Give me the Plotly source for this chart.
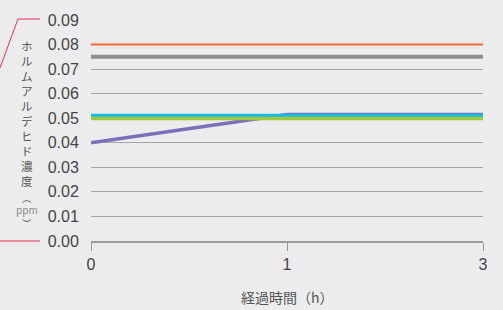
import plotly.graph_objects as go

x_labels = ["0", "1", "3"]
orange = [0.080, 0.080, 0.080]
gray = [0.075, 0.075, 0.075]
purple = [0.040, 0.0515, 0.0515]
blue = [0.0512, 0.0512, 0.0512]
green = [0.050, 0.050, 0.050]
y_ticks = [0.00, 0.01, 0.02, 0.03, 0.04, 0.05, 0.06, 0.07, 0.08, 0.09]
y_title_main = ["ホ", "ル", "ム", "ア", "ル", "デ", "ヒ", "ド", "濃", "度"]
y_title_unit = ["︵", "ppm", "︶"]
x_title = "経過時間（h）"

W, H = 503, 310
L, R, T, B = 91, 20, 15, 69
pw, ph = W - L - R, H - T - B

def px(x):
    return (x - L) / pw

def py(y):
    return (H - B - y) / ph

fig = go.Figure()
series = [
    (purple, "#7b6fb8", 3.5),
    (gray, "#8f8f8f", 4),
    (orange, "#f26b2a", 2),
    (green, "#9dc93b", 4),
    (blue, "#1bb9e8", 3),
]
for vals, col, w in series:
    fig.add_trace(go.Scatter(x=x_labels, y=vals, mode="lines",
                             line=dict(color=col, width=w), cliponaxis=False,
                             hoverinfo="skip", showlegend=False))

unit_txt = "<br>".join(
    f'<span style="font-size:10px;color:#888888">{c}</span>' if c == "ppm"
    else f'<span style="font-size:9px">{c}</span>' for c in y_title_unit)
ann = [
    dict(x=px(27), y=py(110.5), xref="paper", yref="paper", text="<br>".join(y_title_main),
         showarrow=False, xanchor="center", yanchor="middle",
         font=dict(family="Noto Sans CJK JP", size=11.5, color="#555555")),
    dict(x=px(27), y=py(210), xref="paper", yref="paper", text=unit_txt,
         showarrow=False, xanchor="center", yanchor="middle",
         font=dict(family="Noto Sans CJK JP", size=9.6, color="#555555")),
    dict(x=0.5, y=py(298), xref="paper", yref="paper", text=x_title,
         showarrow=False, xanchor="center", yanchor="middle",
         font=dict(family="Noto Sans CJK JP", size=14, color="#555555")),
]

shapes = [
    dict(type="path", xref="paper", yref="paper",
         path=f"M {px(0)},{py(64)} L {px(18)},{py(14)} L {px(40)},{py(14)}",
         line=dict(color="#e6304c", width=1)),
    dict(type="line", xref="paper", yref="paper", x0=px(0), x1=px(40), y0=py(241), y1=py(241),
         line=dict(color="#e6304c", width=1)),
]

fig.update_layout(
    width=W, height=H,
    margin=dict(l=L, r=R, t=T, b=B),
    paper_bgcolor="#ececee", plot_bgcolor="rgba(0,0,0,0)",
    annotations=ann, shapes=shapes,
    xaxis=dict(type="category", range=[0, 2], showgrid=False, showline=True,
               linecolor="#9a9a9a", linewidth=2, ticks="outside", ticklen=8,
               tickcolor="#9a9a9a", tickwidth=1,
               tickfont=dict(family="Liberation Sans", size=16, color="#444444"),
               fixedrange=True),
    yaxis=dict(range=[0, 0.09], tickvals=y_ticks, tickformat=".2f", showgrid=True,
               gridcolor="#a5a5a5", gridwidth=1, zeroline=False, showline=False,
               ticks="outside", ticklen=8, tickcolor="rgba(0,0,0,0)",
               tickfont=dict(family="Liberation Sans", size=16, color="#444444"),
               fixedrange=True),
)
fig.write_html("out.html", config={"displayModeBar": False},
               post_script="document.body.style.margin='0';document.body.style.background='#ececee';")
